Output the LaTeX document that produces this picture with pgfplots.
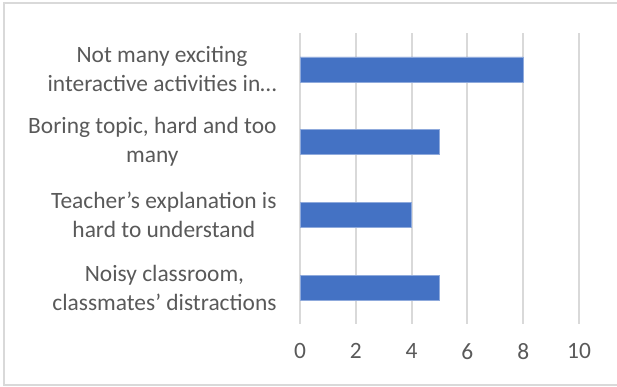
\documentclass[border=0pt]{standalone}
\usepackage{fontspec}
\setmainfont{Carlito}
\usepackage{pgfplots}
\pgfplotsset{compat=1.18}
\definecolor{barblue}{HTML}{4472C4}
\definecolor{gridgray}{HTML}{D9D9D9}
\definecolor{txtgray}{HTML}{595959}
\begin{document}
\begin{tikzpicture}
\begin{axis}[
  scale only axis,
  width=279bp, height=291bp,
  xbar, bar width=25bp,
  xmin=0, xmax=10, ymin=-0.5, ymax=3.5,
  xtick={0,2,4,6,8,10},
  ytick={0,1,2,3},
  yticklabels={{Noisy classroom,\\classmates’ distractions},{Teacher’s explanation is\\hard to understand},{Boring topic, hard and too\\many},{Not many exciting\\interactive activities in…}},
  axis line style={draw=none},
  major tick length=0pt,
  xmajorgrids, grid style={gridgray, line width=2pt},
  /pgf/number format/assume math mode=true,
  ticklabel style={font=\fontsize{23.5}{29}\selectfont, text=txtgray},
  yticklabel style={align=center, xshift=-20bp},
  xticklabel style={yshift=-16bp},
  clip=false,
]
\addplot[fill=barblue, draw=barblue!60!white, line width=0.5pt] coordinates {(5,0) (4,1) (5,2) (8,3)};
\useasboundingbox (rel axis cs:-1.0753,-0.2165) rectangle (rel axis cs:1.1362,1.1134);
\draw[gridgray, line width=1.3pt] (rel axis cs:1.2,1.103) -- (rel axis cs:-1.061,1.103) -- (rel axis cs:-1.061,-0.2096) -- (rel axis cs:1.2,-0.2096);
\end{axis}
\end{tikzpicture}
\end{document}
